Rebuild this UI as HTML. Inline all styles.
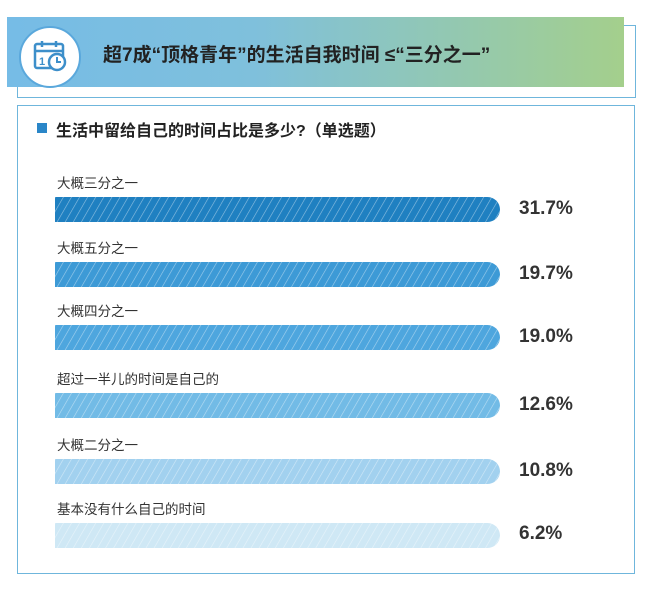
<!DOCTYPE html>
<html><head><meta charset="utf-8"><style>
body{margin:0;width:650px;height:590px;background:#fff;position:relative;overflow:hidden;font-family:"Liberation Sans","Noto Sans CJK SC",sans-serif}
.a{position:absolute}
.lbl{position:absolute;left:57px;font-size:13.5px;color:#333}
.pct{position:absolute;left:519px;font-size:19px;font-weight:bold;color:#333}
</style></head><body>
<div class="a" style="left:17px;top:25px;width:617px;height:71px;border:1.5px solid #6fb6dc;"></div>
<div class="a" style="left:7px;top:17px;width:617px;height:70px;background:linear-gradient(90deg,#76bce6 0%,#7fc0dc 40%,#a4cf8c 100%);"></div>
<div class="a" style="left:19px;top:26px;width:62px;height:62px;border-radius:50%;background:#fff;border:2px solid #5aa8dc;box-sizing:border-box"></div>
<svg class="a" style="left:32px;top:38px" width="38" height="38" viewBox="0 0 38 38">
<rect x="3" y="6" width="28" height="24" rx="2" fill="none" stroke="#3d8fca" stroke-width="2.5"/>
<line x1="3" y1="13" x2="31" y2="13" stroke="#3d8fca" stroke-width="2.5"/>
<line x1="10" y1="3" x2="10" y2="9" stroke="#3d8fca" stroke-width="2.5"/>
<line x1="24" y1="3" x2="24" y2="9" stroke="#3d8fca" stroke-width="2.5"/>
<text x="7" y="27" font-size="11" font-weight="bold" fill="#3d8fca" font-family="Liberation Sans">1</text>
<circle cx="25" cy="24" r="8" fill="#fff" stroke="#3d8fca" stroke-width="2.5"/>
<path d="M25 19v5h4" fill="none" stroke="#3d8fca" stroke-width="2"/>
</svg>
<div class="a" style="left:103px;top:40px;font-size:19px;font-weight:bold;color:#222">超7成“顶格青年”的生活自我时间 ≤“三分之一”</div>
<div class="a" style="left:17px;top:105px;width:616px;height:467px;border:1.5px solid #6fb6dc;"></div>
<div class="a" style="left:37px;top:123px;width:10px;height:10px;background:#2a86c8"></div>
<div class="a" style="left:56px;top:117px;font-size:16px;font-weight:bold;color:#222">生活中留给自己的时间占比是多少?（单选题）</div>
<svg class="a" style="left:0;top:0" width="650" height="590">
<defs>
<pattern id="s" width="7" height="7" patternUnits="userSpaceOnUse" patternTransform="rotate(30)">
<line x1="0" y1="0" x2="0" y2="7" stroke="#fff" stroke-opacity="0.5" stroke-width="1.2"/>
</pattern>
<path id="b" d="M0 0H432.5A12.5 12.5 0 0 1 432.5 25H0Z"/>
</defs>
<g transform="translate(55,197)"><use href="#b" fill="#1f80c1"/><use href="#b" fill="url(#s)"/></g>
<g transform="translate(55,262)"><use href="#b" fill="#3d9ad6"/><use href="#b" fill="url(#s)"/></g>
<g transform="translate(55,325)"><use href="#b" fill="#4ea6de"/><use href="#b" fill="url(#s)"/></g>
<g transform="translate(55,393)"><use href="#b" fill="#72bbe6"/><use href="#b" fill="url(#s)"/></g>
<g transform="translate(55,459)"><use href="#b" fill="#a2d1ef"/><use href="#b" fill="url(#s)"/></g>
<g transform="translate(55,523)"><use href="#b" fill="#cfe8f5"/><use href="#b" fill="url(#s)"/></g>
</svg>
<div class="lbl" style="top:172px">大概三分之一</div>
<div class="lbl" style="top:237px">大概五分之一</div>
<div class="lbl" style="top:300px">大概四分之一</div>
<div class="lbl" style="top:368px">超过一半儿的时间是自己的</div>
<div class="lbl" style="top:434px">大概二分之一</div>
<div class="lbl" style="top:498px">基本没有什么自己的时间</div>
<div class="pct" style="top:198px">31.7%</div>
<div class="pct" style="top:263px">19.7%</div>
<div class="pct" style="top:326px">19.0%</div>
<div class="pct" style="top:394px">12.6%</div>
<div class="pct" style="top:460px">10.8%</div>
<div class="pct" style="top:523px">6.2%</div>
</body></html>
